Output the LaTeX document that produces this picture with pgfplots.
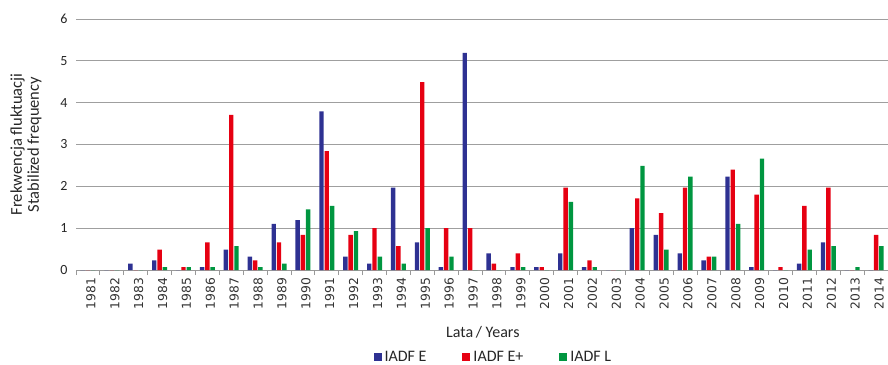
\documentclass[border=0pt]{standalone}
\usepackage{pgfplots}
\pgfplotsset{compat=1.18}
\usepackage{fontspec}
\setmainfont{Carlito}
\newfontfamily\dejavu{DejaVu Sans}
\definecolor{cE}{RGB}{46,49,146}
\definecolor{cEp}{RGB}{230,0,18}
\definecolor{cL}{RGB}{0,150,64}
\begin{document}
\begin{tikzpicture}[x=1pt,y=1pt]
\useasboundingbox (0,0) rectangle (888,364);
\begin{axis}[
  at={(76pt,94pt)}, anchor=south west,
  scale only axis, width=812pt, height=251pt,
  ymin=0, ymax=6, ytick={0,...,6},
  xmin=-0.5, xmax=33.5,
  xtick={0,...,33},
  xticklabels={1981,1982,1983,1984,1985,1986,1987,1988,1989,1990,1991,1992,1993,1994,1995,1996,1997,1998,1999,2000,2001,2002,2003,2004,2005,2006,2007,2008,2009,2010,2011,2012,2013,2014},
  xticklabel style={font=\dejavu\fontsize{12.3}{12}\selectfont, rotate=90, anchor=east, yshift=-3pt, text=black!80},
  yticklabel style={font=\fontsize{14}{14}\selectfont, xshift=-5pt, text=black!85},
  /pgf/number format/assume math mode=true,
  xtick style={draw=none}, ytick style={draw=none},
  extra x ticks={-0.5,0.5,...,33.5}, extra x tick labels={},
  extra x tick style={major tick length=5pt, tick align=outside, xtick style={draw=gray!80, line width=0.8pt}},
  axis lines*=left,
  y axis line style={draw=none},
  x axis line style={-, draw=gray!80, line width=0.8pt},
  ymajorgrids, grid style={draw=gray!75, line width=0.8pt},
  xlabel={Lata\,/ Years},
  xlabel style={font=\fontsize{16}{16}\selectfont, at={(axis description cs:0.501,-0.247)}, anchor=center, text=black!85},
  ylabel={Frekwencja fluktuacji\\Stabilized frequency},
  ylabel style={font=\fontsize{16.5}{17}\selectfont, align=center, at={(axis description cs:-0.0616,0.5)}, anchor=center, rotate=0, text=black!85},
  ybar, bar width=4.4pt,
  legend columns=3,
  legend style={at={(axis description cs:0.514,-0.347)}, anchor=center, draw=none, fill=none,
    font=\fontsize{16}{16}\selectfont, text=black!85,
    /tikz/every odd column/.append style={column sep=1pt},
    /tikz/every even column/.append style={column sep=34pt}},
  legend image code/.code={\fill[#1] (0pt,-4pt) rectangle (8pt,4pt);},
]
\addplot[fill=cE, draw=none, bar shift=-5.3pt] coordinates {
(0,0) (1,0) (2,0.15) (3,0.23) (4,0) (5,0.07) (6,0.49) (7,0.32) (8,1.10) (9,1.19)
(10,3.79) (11,0.32) (12,0.15) (13,1.97) (14,0.66) (15,0.07) (16,5.19) (17,0.40) (18,0.07) (19,0.07)
(20,0.40) (21,0.07) (22,0) (23,1.00) (24,0.84) (25,0.40) (26,0.23) (27,2.23) (28,0.07) (29,0)
(30,0.15) (31,0.66) (32,0) (33,0)};
\addlegendentry{IADF E}
\addplot[fill=cEp, draw=none, bar shift=0pt] coordinates {
(0,0) (1,0) (2,0) (3,0.49) (4,0.07) (5,0.66) (6,3.71) (7,0.23) (8,0.66) (9,0.84)
(10,2.84) (11,0.84) (12,1.00) (13,0.57) (14,4.49) (15,1.00) (16,1.00) (17,0.15) (18,0.40) (19,0.07)
(20,1.97) (21,0.23) (22,0) (23,1.71) (24,1.36) (25,1.97) (26,0.32) (27,2.40) (28,1.80) (29,0.07)
(30,1.53) (31,1.97) (32,0) (33,0.84)};
\addlegendentry{IADF E+}
\addplot[fill=cL, draw=none, bar shift=5.3pt] coordinates {
(0,0) (1,0) (2,0) (3,0.07) (4,0.07) (5,0.07) (6,0.57) (7,0.07) (8,0.15) (9,1.45)
(10,1.53) (11,0.93) (12,0.32) (13,0.15) (14,1.00) (15,0.32) (16,0) (17,0) (18,0.07) (19,0)
(20,1.63) (21,0.07) (22,0) (23,2.49) (24,0.49) (25,2.23) (26,0.32) (27,1.10) (28,2.66) (29,0)
(30,0.49) (31,0.57) (32,0.07) (33,0.57)};
\addlegendentry{IADF L}
\end{axis}
\end{tikzpicture}
\end{document}
